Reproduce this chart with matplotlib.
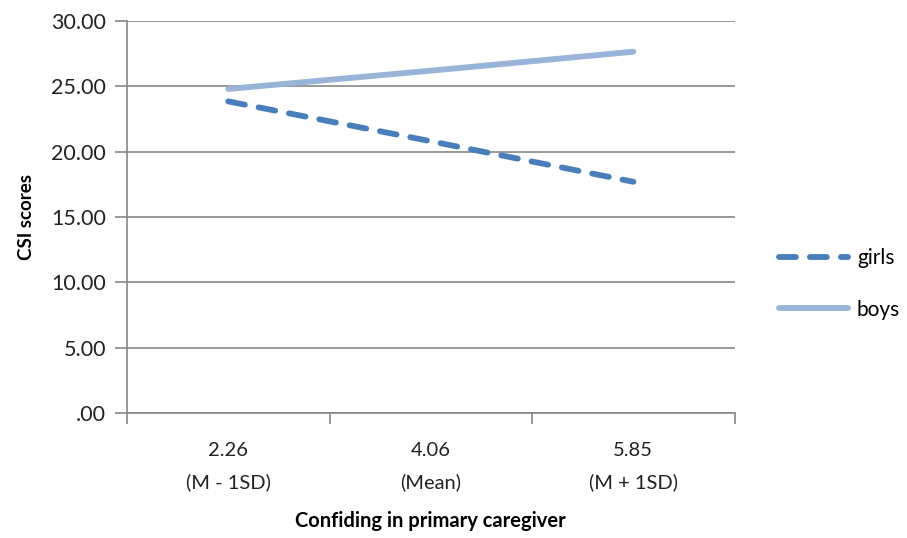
import numpy as np
import matplotlib.pyplot as plt
from matplotlib.ticker import FuncFormatter, FixedLocator, NullFormatter

categories = ["2.26\n(M - 1SD)", "4.06\n(Mean)", "5.85\n(M + 1SD)"]
girls = [23.85, 20.8, 17.7]
boys = [24.8, 26.2, 27.65]

plt.rcParams['font.family'] = ['Lato', 'DejaVu Sans']

fig = plt.figure(figsize=(9.07, 5.38), dpi=100)
ax = fig.add_axes([0.140, 0.232, 0.670, 0.729])

x = np.arange(len(categories))
ax.plot(x, girls, color='#4A7EBB', lw=4.2, ls=(0, (2.9, 2.4)), label='girls', zorder=3,
        dash_capstyle='round')
ax.plot(x, boys, color='#98B4D8', lw=4.2, label='boys', zorder=3, solid_capstyle='round')

ax.set_xlim(-0.5, 2.5)
ax.set_ylim(0, 30)
ax.set_yticks(np.arange(0, 31, 5))
ax.yaxis.set_major_formatter(FuncFormatter(lambda v, p: f"{v:.2f}".lstrip('0') if v == 0 else f"{v:.2f}"))

# category boundaries as tick marks, labels in between
ax.xaxis.set_major_locator(FixedLocator([-0.5, 0.5, 1.5, 2.5]))
ax.xaxis.set_major_formatter(NullFormatter())
ax.xaxis.set_minor_locator(FixedLocator(x))
ax.set_xticklabels(categories, minor=True, linespacing=1.95)
ax.tick_params(axis='x', which='minor', length=0, labelsize=14.5, pad=21, labelcolor='#222222')
ax.tick_params(axis='x', which='major', length=8, color='#868686', width=1.2)
ax.tick_params(axis='y', length=9, color='#868686', width=1.2, labelsize=15.5, labelcolor='#222222', pad=6)

ax.grid(axis='y', color='#868686', lw=1.2)
ax.set_axisbelow(True)
for s in ['top', 'right']:
    ax.spines[s].set_visible(False)
for s in ['left', 'bottom']:
    ax.spines[s].set_color('#868686')
    ax.spines[s].set_linewidth(1.2)

ax.set_ylabel('CSI scores', fontsize=13.5, fontweight='bold', labelpad=12)
ax.set_xlabel('Confiding in primary caregiver', fontsize=14.5, fontweight='bold', labelpad=14)

fig.legend(loc='center left', bbox_to_anchor=(0.838, 0.472), frameon=False,
           fontsize=15, handlelength=3.3, labelspacing=1.5, handletextpad=0.45)

fig.savefig('out.png', dpi=100)
